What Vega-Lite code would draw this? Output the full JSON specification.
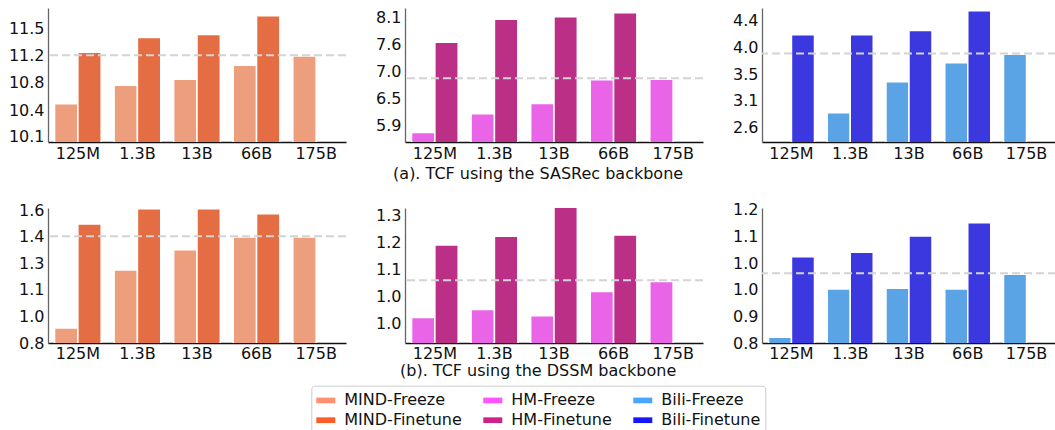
{
  "$schema": "https://vega.github.io/schema/vega-lite/v6.json",
  "autosize": {"type": "pad"},
  "padding": {"left": 8, "top": 8, "right": 0, "bottom": 0},
  "background": "white",
  "datasets": {
    "bars": [
      {"panel": "p1", "size": "125M", "stage": "Freeze", "series": "MIND-Freeze", "value": 10.53},
      {"panel": "p1", "size": "125M", "stage": "Finetune", "series": "MIND-Finetune", "value": 11.20},
      {"panel": "p1", "size": "1.3B", "stage": "Freeze", "series": "MIND-Freeze", "value": 10.77},
      {"panel": "p1", "size": "1.3B", "stage": "Finetune", "series": "MIND-Finetune", "value": 11.39},
      {"panel": "p1", "size": "13B", "stage": "Freeze", "series": "MIND-Freeze", "value": 10.85},
      {"panel": "p1", "size": "13B", "stage": "Finetune", "series": "MIND-Finetune", "value": 11.43},
      {"panel": "p1", "size": "66B", "stage": "Freeze", "series": "MIND-Freeze", "value": 11.03},
      {"panel": "p1", "size": "66B", "stage": "Finetune", "series": "MIND-Finetune", "value": 11.67},
      {"panel": "p1", "size": "175B", "stage": "Freeze", "series": "MIND-Freeze", "value": 11.15},
      {"panel": "p2", "size": "125M", "stage": "Freeze", "series": "HM-Freeze", "value": 5.78},
      {"panel": "p2", "size": "125M", "stage": "Finetune", "series": "HM-Finetune", "value": 7.61},
      {"panel": "p2", "size": "1.3B", "stage": "Freeze", "series": "HM-Freeze", "value": 6.16},
      {"panel": "p2", "size": "1.3B", "stage": "Finetune", "series": "HM-Finetune", "value": 8.08},
      {"panel": "p2", "size": "13B", "stage": "Freeze", "series": "HM-Freeze", "value": 6.37},
      {"panel": "p2", "size": "13B", "stage": "Finetune", "series": "HM-Finetune", "value": 8.13},
      {"panel": "p2", "size": "66B", "stage": "Freeze", "series": "HM-Freeze", "value": 6.85},
      {"panel": "p2", "size": "66B", "stage": "Finetune", "series": "HM-Finetune", "value": 8.21},
      {"panel": "p2", "size": "175B", "stage": "Freeze", "series": "HM-Freeze", "value": 6.86},
      {"panel": "p3", "size": "125M", "stage": "Finetune", "series": "Bili-Finetune", "value": 4.18},
      {"panel": "p3", "size": "1.3B", "stage": "Freeze", "series": "Bili-Freeze", "value": 2.87},
      {"panel": "p3", "size": "1.3B", "stage": "Finetune", "series": "Bili-Finetune", "value": 4.18},
      {"panel": "p3", "size": "13B", "stage": "Freeze", "series": "Bili-Freeze", "value": 3.39},
      {"panel": "p3", "size": "13B", "stage": "Finetune", "series": "Bili-Finetune", "value": 4.25},
      {"panel": "p3", "size": "66B", "stage": "Freeze", "series": "Bili-Freeze", "value": 3.71},
      {"panel": "p3", "size": "66B", "stage": "Finetune", "series": "Bili-Finetune", "value": 4.58},
      {"panel": "p3", "size": "175B", "stage": "Freeze", "series": "Bili-Freeze", "value": 3.85},
      {"panel": "p4", "size": "125M", "stage": "Freeze", "series": "MIND-Freeze", "value": 0.89},
      {"panel": "p4", "size": "125M", "stage": "Finetune", "series": "MIND-Finetune", "value": 1.518},
      {"panel": "p4", "size": "1.3B", "stage": "Freeze", "series": "MIND-Freeze", "value": 1.24},
      {"panel": "p4", "size": "1.3B", "stage": "Finetune", "series": "MIND-Finetune", "value": 1.61},
      {"panel": "p4", "size": "13B", "stage": "Freeze", "series": "MIND-Freeze", "value": 1.363},
      {"panel": "p4", "size": "13B", "stage": "Finetune", "series": "MIND-Finetune", "value": 1.61},
      {"panel": "p4", "size": "66B", "stage": "Freeze", "series": "MIND-Freeze", "value": 1.44},
      {"panel": "p4", "size": "66B", "stage": "Finetune", "series": "MIND-Finetune", "value": 1.58},
      {"panel": "p4", "size": "175B", "stage": "Freeze", "series": "MIND-Freeze", "value": 1.44},
      {"panel": "p5", "size": "125M", "stage": "Freeze", "series": "HM-Freeze", "value": 0.986},
      {"panel": "p5", "size": "125M", "stage": "Finetune", "series": "HM-Finetune", "value": 1.189},
      {"panel": "p5", "size": "1.3B", "stage": "Freeze", "series": "HM-Freeze", "value": 1.008},
      {"panel": "p5", "size": "1.3B", "stage": "Finetune", "series": "HM-Finetune", "value": 1.213},
      {"panel": "p5", "size": "13B", "stage": "Freeze", "series": "HM-Freeze", "value": 0.991},
      {"panel": "p5", "size": "13B", "stage": "Finetune", "series": "HM-Finetune", "value": 1.30},
      {"panel": "p5", "size": "66B", "stage": "Freeze", "series": "HM-Freeze", "value": 1.059},
      {"panel": "p5", "size": "66B", "stage": "Finetune", "series": "HM-Finetune", "value": 1.217},
      {"panel": "p5", "size": "175B", "stage": "Freeze", "series": "HM-Freeze", "value": 1.087},
      {"panel": "p6", "size": "125M", "stage": "Freeze", "series": "Bili-Freeze", "value": 0.817},
      {"panel": "p6", "size": "125M", "stage": "Finetune", "series": "Bili-Finetune", "value": 1.059},
      {"panel": "p6", "size": "1.3B", "stage": "Freeze", "series": "Bili-Freeze", "value": 0.962},
      {"panel": "p6", "size": "1.3B", "stage": "Finetune", "series": "Bili-Finetune", "value": 1.072},
      {"panel": "p6", "size": "13B", "stage": "Freeze", "series": "Bili-Freeze", "value": 0.964},
      {"panel": "p6", "size": "13B", "stage": "Finetune", "series": "Bili-Finetune", "value": 1.121},
      {"panel": "p6", "size": "66B", "stage": "Freeze", "series": "Bili-Freeze", "value": 0.962},
      {"panel": "p6", "size": "66B", "stage": "Finetune", "series": "Bili-Finetune", "value": 1.161},
      {"panel": "p6", "size": "175B", "stage": "Freeze", "series": "Bili-Freeze", "value": 1.006}
    ],
    "lines": [
      {"panel": "p1", "value": 11.16},
      {"panel": "p2", "value": 6.88},
      {"panel": "p3", "value": 3.866},
      {"panel": "p4", "value": 1.444},
      {"panel": "p5", "value": 1.09},
      {"panel": "p6", "value": 1.009}
    ],
    "legend": [
      {"series": "MIND-Freeze"},
      {"series": "MIND-Finetune"},
      {"series": "HM-Freeze"},
      {"series": "HM-Finetune"},
      {"series": "Bili-Freeze"},
      {"series": "Bili-Finetune"}
    ]
  },
  "columns": 3,
  "spacing": {"row": 66, "column": 59},
  "bounds": "flush",
  "resolve": {"scale": {"x": "independent", "y": "independent", "xOffset": "independent", "color": "independent", "fill": "independent"}},
  "concat": [
    {
      "width": 298, "height": 134,
      "layer": [
        {"data": {"name": "bars"}, "transform": [{"filter": "datum.panel === 'p1'"}],
         "mark": {"type": "bar", "stroke": "white", "strokeWidth": 1.5, "clip": true},
         "encoding": {
           "x": {"field": "size", "type": "nominal", "scale": {"domain": ["125M", "1.3B", "13B", "66B", "175B"], "paddingInner": 0.217, "paddingOuter": 0.11}, "axis": {"title": null, "labelAngle": 0, "labelPadding": 16, "labelBaseline": "alphabetic"}},
           "xOffset": {"field": "stage", "type": "nominal", "scale": {"domain": ["Freeze", "Finetune"]}},
           "y": {"field": "value", "type": "quantitative", "scale": {"domain": [10.035, 11.772], "nice": false, "zero": false}, "axis": {"title": null, "values": [10.1, 10.448, 10.8, 11.152, 11.5], "tickCount": 12, "labelOverlap": false, "format": ".1f"}},
           "color": {"field": "series", "type": "nominal", "scale": {"domain": ["MIND-Freeze", "MIND-Finetune"], "range": ["#ED9E7D", "#E56D43"]}, "legend": null}
         }},
        {"data": {"name": "lines"}, "transform": [{"filter": "datum.panel === 'p1'"}],
         "mark": {"type": "rule", "color": "#d3d3d3", "strokeWidth": 2, "strokeDash": [8, 4]},
         "encoding": {"y": {"field": "value", "type": "quantitative"}}}
      ]
    },
    {
      "width": 298, "height": 134,
      "layer": [
        {"data": {"name": "bars"}, "transform": [{"filter": "datum.panel === 'p2'"}],
         "mark": {"type": "bar", "stroke": "white", "strokeWidth": 1.5, "clip": true},
         "encoding": {
           "x": {"field": "size", "type": "nominal", "scale": {"domain": ["125M", "1.3B", "13B", "66B", "175B"], "paddingInner": 0.217, "paddingOuter": 0.11}, "axis": {"title": "(a). TCF using the SASRec backbone", "titleX": 132.6, "titleY": 36, "titleBaseline": "alphabetic", "titleAlign": "center", "labelAngle": 0, "labelPadding": 16, "labelBaseline": "alphabetic"}},
           "xOffset": {"field": "stage", "type": "nominal", "scale": {"domain": ["Freeze", "Finetune"]}},
           "y": {"field": "value", "type": "quantitative", "scale": {"domain": [5.588, 8.307], "nice": false, "zero": false}, "axis": {"title": null, "values": [5.92, 6.47, 7.02, 7.57, 8.12], "tickCount": 12, "labelOverlap": false, "format": ".1f"}},
           "color": {"field": "series", "type": "nominal", "scale": {"domain": ["HM-Freeze", "HM-Finetune"], "range": ["#E964E6", "#BC2F87"]}, "legend": null}
         }},
        {"data": {"name": "lines"}, "transform": [{"filter": "datum.panel === 'p2'"}],
         "mark": {"type": "rule", "color": "#d3d3d3", "strokeWidth": 2, "strokeDash": [8, 4]},
         "encoding": {"y": {"field": "value", "type": "quantitative"}}}
      ]
    },
    {
      "width": 294, "height": 134,
      "layer": [
        {"data": {"name": "bars"}, "transform": [{"filter": "datum.panel === 'p3'"}],
         "mark": {"type": "bar", "stroke": "white", "strokeWidth": 1.5, "clip": true},
         "encoding": {
           "x": {"field": "size", "type": "nominal", "scale": {"domain": ["125M", "1.3B", "13B", "66B", "175B"], "paddingInner": 0.217, "paddingOuter": 0.11}, "axis": {"title": null, "labelAngle": 0, "labelPadding": 16, "labelBaseline": "alphabetic"}},
           "xOffset": {"field": "stage", "type": "nominal", "scale": {"domain": ["Freeze", "Finetune"]}},
           "y": {"field": "value", "type": "quantitative", "scale": {"domain": [2.38, 4.627], "nice": false, "zero": false}, "axis": {"title": null, "values": [2.62, 3.07, 3.52, 3.97, 4.42], "tickCount": 12, "labelOverlap": false, "format": ".1f"}},
           "color": {"field": "series", "type": "nominal", "scale": {"domain": ["Bili-Freeze", "Bili-Finetune"], "range": ["#5AA3E5", "#3B38E0"]}, "legend": null}
         }},
        {"data": {"name": "lines"}, "transform": [{"filter": "datum.panel === 'p3'"}],
         "mark": {"type": "rule", "color": "#d3d3d3", "strokeWidth": 2, "strokeDash": [8, 4]},
         "encoding": {"y": {"field": "value", "type": "quantitative"}}}
      ]
    },
    {
      "width": 298, "height": 135,
      "layer": [
        {"data": {"name": "bars"}, "transform": [{"filter": "datum.panel === 'p4'"}],
         "mark": {"type": "bar", "stroke": "white", "strokeWidth": 1.5, "clip": true},
         "encoding": {
           "x": {"field": "size", "type": "nominal", "scale": {"domain": ["125M", "1.3B", "13B", "66B", "175B"], "paddingInner": 0.217, "paddingOuter": 0.11}, "axis": {"title": null, "labelAngle": 0, "labelPadding": 15, "labelBaseline": "alphabetic"}},
           "xOffset": {"field": "stage", "type": "nominal", "scale": {"domain": ["Freeze", "Finetune"]}},
           "y": {"field": "value", "type": "quantitative", "scale": {"domain": [0.8, 1.615], "nice": false, "zero": false}, "axis": {"title": null, "values": [0.8, 0.96, 1.12, 1.28, 1.44, 1.6], "tickCount": 12, "labelOverlap": false, "format": ".1f"}},
           "color": {"field": "series", "type": "nominal", "scale": {"domain": ["MIND-Freeze", "MIND-Finetune"], "range": ["#ED9E7D", "#E56D43"]}, "legend": null}
         }},
        {"data": {"name": "lines"}, "transform": [{"filter": "datum.panel === 'p4'"}],
         "mark": {"type": "rule", "color": "#d3d3d3", "strokeWidth": 2, "strokeDash": [8, 4]},
         "encoding": {"y": {"field": "value", "type": "quantitative"}}}
      ]
    },
    {
      "width": 298, "height": 135,
      "layer": [
        {"data": {"name": "bars"}, "transform": [{"filter": "datum.panel === 'p5'"}],
         "mark": {"type": "bar", "stroke": "white", "strokeWidth": 1.5, "clip": true},
         "encoding": {
           "x": {"field": "size", "type": "nominal", "scale": {"domain": ["125M", "1.3B", "13B", "66B", "175B"], "paddingInner": 0.217, "paddingOuter": 0.11}, "axis": {"title": "(b). TCF using the DSSM backbone", "titleX": 132.6, "titleY": 32, "titleBaseline": "alphabetic", "titleAlign": "center", "labelAngle": 0, "labelPadding": 15, "labelBaseline": "alphabetic"}},
           "xOffset": {"field": "stage", "type": "nominal", "scale": {"domain": ["Freeze", "Finetune"]}},
           "y": {"field": "value", "type": "quantitative", "scale": {"domain": [0.9146, 1.2923], "nice": false, "zero": false}, "axis": {"title": null, "values": [0.97, 1.044, 1.12, 1.196, 1.27], "tickCount": 12, "labelOverlap": false, "format": ".1f"}},
           "color": {"field": "series", "type": "nominal", "scale": {"domain": ["HM-Freeze", "HM-Finetune"], "range": ["#E964E6", "#BC2F87"]}, "legend": null}
         }},
        {"data": {"name": "lines"}, "transform": [{"filter": "datum.panel === 'p5'"}],
         "mark": {"type": "rule", "color": "#d3d3d3", "strokeWidth": 2, "strokeDash": [8, 4]},
         "encoding": {"y": {"field": "value", "type": "quantitative"}}},
        {"data": {"name": "legend"},
         "mark": {"type": "bar", "opacity": 0},
         "encoding": {
           "fill": {"field": "series", "type": "nominal",
             "scale": {"domain": ["MIND-Freeze", "MIND-Finetune", "HM-Freeze", "HM-Finetune", "Bili-Freeze", "Bili-Finetune"], "range": ["#FF9070", "#FF5C2A", "#FF55FF", "#D0208C", "#4AA5FF", "#1515FF"]},
             "legend": {"title": null, "orient": "none", "legendX": -93.7, "legendY": 177.7, "columns": 3, "columnPadding": 21, "rowPadding": 2, "symbolType": "M-1,-0.3H1V0.3H-1Z", "symbolSize": 361, "symbolStrokeWidth": 0, "symbolOpacity": 1, "labelFontSize": 16, "labelFont": "DejaVu Sans", "labelColor": "#111", "labelOffset": 9, "padding": 5, "strokeColor": "#cccccc", "fillColor": "white", "cornerRadius": 3}}
         }}
      ]
    },
    {
      "width": 294, "height": 135,
      "layer": [
        {"data": {"name": "bars"}, "transform": [{"filter": "datum.panel === 'p6'"}],
         "mark": {"type": "bar", "stroke": "white", "strokeWidth": 1.5, "clip": true},
         "encoding": {
           "x": {"field": "size", "type": "nominal", "scale": {"domain": ["125M", "1.3B", "13B", "66B", "175B"], "paddingInner": 0.217, "paddingOuter": 0.11}, "axis": {"title": null, "labelAngle": 0, "labelPadding": 15, "labelBaseline": "alphabetic"}},
           "xOffset": {"field": "stage", "type": "nominal", "scale": {"domain": ["Freeze", "Finetune"]}},
           "y": {"field": "value", "type": "quantitative", "scale": {"domain": [0.8, 1.205], "nice": false, "zero": false}, "axis": {"title": null, "values": [0.8, 0.88, 0.96, 1.04, 1.12, 1.2], "tickCount": 12, "labelOverlap": false, "format": ".1f"}},
           "color": {"field": "series", "type": "nominal", "scale": {"domain": ["Bili-Freeze", "Bili-Finetune"], "range": ["#5AA3E5", "#3B38E0"]}, "legend": null}
         }},
        {"data": {"name": "lines"}, "transform": [{"filter": "datum.panel === 'p6'"}],
         "mark": {"type": "rule", "color": "#d3d3d3", "strokeWidth": 2, "strokeDash": [8, 4]},
         "encoding": {"y": {"field": "value", "type": "quantitative"}}}
      ]
    }
  ],
  "config": {
    "font": "DejaVu Sans",
    "view": {"stroke": null},
    "axis": {"grid": false, "ticks": false, "tickSize": 0, "labelOverlap": false, "labelFont": "DejaVu Sans", "labelFontSize": 16, "labelColor": "#111", "titleFont": "DejaVu Sans", "titleFontSize": 16, "titleFontWeight": "normal", "titleColor": "#111", "domainWidth": 1.3},
    "axisX": {"domainColor": "#111"},
    "axisY": {"domainColor": "#666", "labelPadding": 4}
  }
}
